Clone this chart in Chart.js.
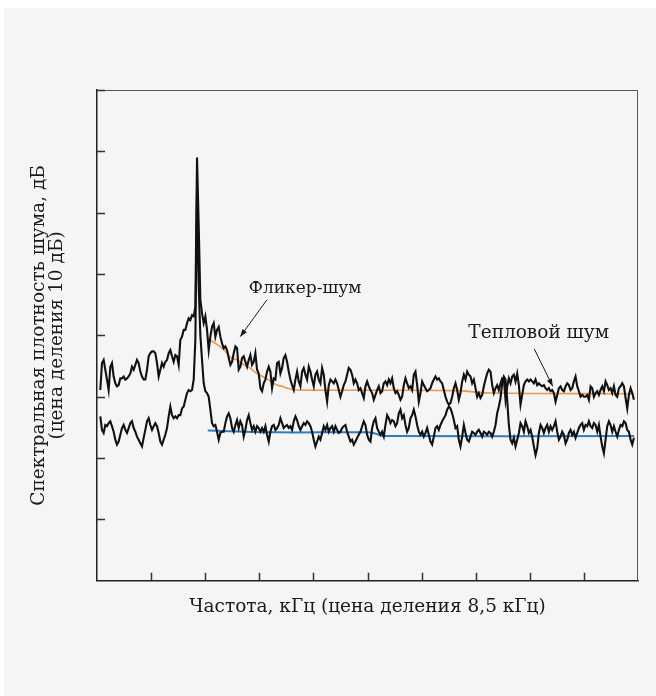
<!DOCTYPE html>
<html>
<head>
<meta charset="utf-8">
<script src="https://cdn.jsdelivr.net/npm/chart.js@4.4.1/dist/chart.umd.min.js"></script>
<style>
    html, body { margin: 0; padding: 0; background: #ffffff; }
    #wrap { position: absolute; left: 4px; top: 8px; width: 652px; height: 688px; background: #f5f5f5; }
</style>
</head>
<body>
<div id="wrap"><canvas id="noiseChart" width="652" height="688"></canvas></div>
<script>
// sweep grid of the analyser trace, kHz
const freqStartKHz = 0.52;
const freqStepKHz = 0.262;

// upper trace (input with flicker noise), dB
const upperTrace = [
    31.1, 35.5, 36.0, 34.4, 32.8, 31.1, 34.9, 35.5, 33.3, 32.2,
    31.7, 31.9, 33.0, 33.0, 33.3, 32.8, 33.0, 33.3, 33.8, 34.9,
    34.4, 35.2, 36.0, 35.5, 34.1, 33.3, 32.8, 32.8, 34.4, 36.6,
    37.1, 37.4, 37.4, 37.1, 35.5, 33.3, 34.4, 35.5, 34.9, 35.7,
    36.0, 37.1, 37.6, 36.6, 35.7, 36.8, 36.6, 35.2, 39.3, 39.8,
    40.9, 40.9, 42.0, 42.8, 42.5, 43.3, 43.1, 44.7, 69.0, 58.0,
    45.8, 43.6, 42.0, 43.1, 40.9, 37.6, 39.8, 41.4, 42.0, 39.8,
    40.9, 41.4, 39.8, 38.7, 37.9, 38.2, 37.6, 36.3, 35.2, 35.7,
    37.1, 38.2, 37.9, 34.4, 34.9, 36.3, 36.6, 35.7, 34.9, 36.0,
    36.8, 35.2, 35.7, 37.1, 34.4, 33.8, 31.4, 30.9, 32.2, 32.8,
    34.1, 34.9, 34.1, 31.4, 33.0, 32.8,
    35.5, 35.7, 33.8, 34.7, 36.3, 36.8, 35.7, 34.1, 32.8, 31.9,
    31.1, 32.8, 34.1, 32.5, 31.7, 34.1, 34.7, 33.6, 32.8, 34.9,
    34.1, 32.8, 31.7, 33.6, 34.1, 32.8, 32.2, 34.7, 33.6, 31.1,
    29.2, 31.9, 32.8, 32.5, 32.2, 32.8, 32.2, 31.1, 30.0, 30.9,
    31.9, 32.5, 33.6, 34.7, 34.4, 33.6, 32.2, 32.8, 32.2, 31.1,
    31.4, 30.6, 29.8, 31.7, 32.5, 31.7, 31.1, 30.6, 29.5, 30.3,
    31.1, 31.7, 30.6, 30.9, 32.2, 32.5, 31.9, 32.8, 32.2, 33.0,
    31.4, 30.6, 30.9, 30.3, 29.5, 30.0, 31.9, 33.0, 32.2, 31.4,
    31.7, 31.1, 33.6, 34.1, 31.9, 29.2, 30.6, 32.5, 31.9, 31.4,
    30.9, 31.1, 31.4, 32.2, 32.8, 33.3, 32.8, 33.0, 32.5, 32.2,
    31.1, 30.0, 29.2, 28.7, 29.0, 30.0, 31.4, 32.2,
    31.1, 29.5, 30.6, 32.5, 33.6, 32.8, 34.1, 33.6, 33.3, 32.2,
    32.8, 31.4, 30.0, 30.6, 29.8, 30.3, 31.7, 32.8, 33.8, 34.4,
    34.1, 31.9, 30.6, 31.4, 31.9, 31.1, 32.2, 33.0, 32.8, 29.5,
    31.7, 33.0, 32.2, 33.3, 33.6, 32.5, 33.8, 31.9, 28.7, 30.3,
    31.9, 32.5, 32.8, 32.5, 32.8, 32.5, 32.2, 32.8, 31.9, 32.2,
    31.9, 31.7, 31.9, 31.4, 31.1, 31.4, 30.9, 31.1, 30.6, 29.2,
    30.3, 31.4, 31.7, 31.1, 30.9, 31.7, 32.2, 31.9, 31.1, 31.4,
    32.5, 33.3, 31.7, 30.9, 30.0, 30.3, 30.0, 30.0, 30.3, 29.5,
    31.7, 31.4, 30.0, 30.6, 30.9, 30.3, 31.1, 31.7, 30.9, 32.5,
    31.9, 31.1, 31.4, 30.6, 31.7, 30.3, 30.0, 31.4, 31.7, 32.2,
    31.7, 29.8, 28.1, 30.3, 31.4, 30.6, 29.5
];

// lower trace (thermal noise only), dB
const lowerTrace = [
    26.8, 24.6, 24.1, 25.4, 25.2, 25.7, 26.0, 25.2, 24.3, 23.0,
    22.2, 22.7, 23.8, 24.9, 25.4, 24.6, 24.1, 24.9, 25.7, 26.0,
    24.9, 24.3, 23.5, 23.0, 22.4, 21.9, 23.3, 24.6, 26.0, 26.5,
    25.4, 24.6, 25.2, 25.7, 25.2, 24.1, 22.7, 22.2, 23.0, 23.8,
    24.9, 26.8, 28.4, 27.0, 26.5, 26.8, 26.5, 27.0, 27.0, 28.1,
    28.4, 29.5, 30.6, 31.1, 30.9, 31.1, 32.8, 39.3, 64.0, 48.0,
    40.0, 36.0, 32.2, 30.9, 30.6, 30.0, 27.9, 25.7, 25.2, 25.4,
    24.3, 23.0, 24.1, 24.3, 24.3, 25.7, 26.8, 27.3, 26.5, 24.9,
    24.3, 25.4, 26.2, 24.9, 26.0, 25.4, 23.5, 24.6, 26.2, 27.0,
    25.7, 24.6, 25.2, 24.3, 25.2, 24.9, 24.3, 24.9, 24.3, 25.2,
    23.8, 22.7, 24.3, 25.2, 25.4, 24.6,
    24.9, 25.4, 26.5, 25.7, 24.9, 25.2, 25.4, 24.9, 25.2, 24.6,
    26.0, 26.8, 26.2, 25.2, 24.6, 25.2, 25.7, 25.4, 26.0, 25.7,
    25.2, 24.3, 23.0, 21.9, 22.7, 23.5, 23.0, 24.1, 25.2, 24.6,
    25.4, 24.3, 24.9, 25.2, 24.3, 25.2, 24.6, 24.1, 24.3, 24.9,
    25.2, 25.4, 24.3, 23.5, 22.7, 23.0, 22.2, 22.7, 23.3, 23.8,
    24.3, 25.2, 26.0, 25.4, 23.8, 23.0, 22.7, 24.9, 26.0, 26.5,
    24.9, 24.3, 23.8, 24.3, 23.5, 25.4, 27.0, 26.5, 25.7, 26.2,
    26.0, 25.2, 25.7, 27.3, 27.9, 26.5, 27.0, 25.4, 24.3, 24.9,
    26.5, 27.0, 27.9, 26.8, 25.4, 24.3, 23.8, 24.3, 23.5, 24.1,
    24.9, 23.8, 22.7, 22.2, 23.5, 24.9, 25.2, 24.6, 25.4, 26.0,
    26.5, 27.0, 27.9, 28.4, 28.1, 27.3, 26.2, 24.9,
    25.2, 23.0, 21.9, 23.5, 25.4, 24.1, 23.0, 22.7, 23.5, 24.3,
    24.1, 23.8, 24.3, 24.6, 24.1, 23.5, 24.3, 24.1, 23.8, 24.3,
    24.1, 23.5, 24.3, 25.4, 27.3, 28.4, 29.8, 32.2, 33.3, 32.8,
    29.5, 25.4, 23.0, 22.4, 23.3, 21.9, 23.0, 24.1, 25.7, 25.2,
    24.3, 26.0, 25.2, 24.1, 24.6, 23.5, 21.9, 20.5, 21.6, 24.1,
    25.4, 24.9, 24.1, 24.9, 25.4, 24.3, 25.2, 24.6, 25.2, 26.0,
    24.3, 23.0, 23.5, 24.3, 23.8, 22.4, 23.0, 24.1, 24.6, 23.8,
    24.3, 23.3, 24.1, 24.9, 25.4, 25.7, 24.6, 25.4, 25.2, 26.0,
    25.2, 24.9, 25.7, 25.4, 24.3, 25.4, 23.5, 21.9, 20.8, 23.0,
    25.2, 26.0, 25.4, 24.3, 25.2, 24.3, 23.5, 24.6, 25.4, 25.2,
    26.0, 25.7, 24.6, 24.3, 23.0, 22.2, 23.3
];

// smoothed levels
const flickerFreq = [17.4, 18.9, 20.0, 20.9, 22.0, 23.1, 24.0, 25.1, 26.2, 27.2, 28.3, 29.1, 29.9, 31.4, 56.6, 61.7, 84.4];
const flickerLevel = [39.4, 38.5, 37.6, 36.5, 36.0, 35.2, 34.7, 33.8, 33.2, 32.6, 31.9, 31.7, 31.4, 31.1, 31.0, 30.6, 30.5];
const thermalFreq = [17.4, 28.3, 42.4, 43.7, 44.9, 84.4];
const thermalLevel = [24.5, 24.2, 24.2, 24.0, 23.6, 23.6];

const xMax = 85;     // 10 divisions of 8.5 kHz
const xStep = 8.5;
const yMax = 80;     // 8 divisions of 10 dB
const yStep = 10;

const serif = "'DejaVu Serif', 'Liberation Serif', serif";

const toPoints = (values) => values.map((v, i) => ({ x: freqStartKHz + i * freqStepKHz, y: v }));
const pairPoints = (xs, ys) => xs.map((x, i) => ({ x: x, y: ys[i] }));

// inward tick marks and the top/right frame lines
const frameTicks = {
    id: 'frameTicks',
    afterDraw(chart) {
        const { ctx, chartArea: a, scales } = chart;
        ctx.save();
        ctx.strokeStyle = '#555';
        ctx.lineWidth = 1;
        ctx.beginPath();
        ctx.moveTo(a.left, a.top + 0.5);
        ctx.lineTo(a.right - 0.5, a.top + 0.5);
        ctx.lineTo(a.right - 0.5, a.bottom);
        ctx.stroke();

        ctx.strokeStyle = '#333';
        ctx.lineWidth = 1.5;
        ctx.beginPath();
        scales.x.ticks.forEach(t => {
            const px = Math.round(scales.x.getPixelForValue(t.value)) + 0.5;
            if (t.value <= 0 || t.value >= xMax) return;
            ctx.moveTo(px, a.bottom);
            ctx.lineTo(px, a.bottom - 8);
        });
        scales.y.ticks.forEach(t => {
            const py = Math.round(scales.y.getPixelForValue(t.value)) + 0.5;
            if (t.value <= 0) return;
            ctx.moveTo(a.left, py);
            ctx.lineTo(a.left + 8, py);
        });
        ctx.stroke();
        ctx.restore();
    }
};

// labels with pointers
const callouts = [
    { text: 'Фликер-шум', size: 17, at: [32.7, 47.6], from: [26.7, 45.8], to: [22.5, 39.8] },
    { text: 'Тепловой шум', size: 18.5, at: [69.4, 40.3], from: [68.7, 37.8], to: [71.6, 31.7] }
];

const calloutPlugin = {
    id: 'callouts',
    afterDatasetsDraw(chart) {
        const { ctx, scales: { x, y } } = chart;
        ctx.save();
        ctx.fillStyle = '#1a1a1a';
        ctx.textAlign = 'center';
        ctx.textBaseline = 'middle';
        ctx.strokeStyle = '#1a1a1a';
        ctx.lineWidth = 1;
        callouts.forEach(c => {
            ctx.font = c.size + 'px ' + serif;
            ctx.fillText(c.text, x.getPixelForValue(c.at[0]), y.getPixelForValue(c.at[1]));
            const x1 = x.getPixelForValue(c.from[0]), y1 = y.getPixelForValue(c.from[1]);
            const x2 = x.getPixelForValue(c.to[0]), y2 = y.getPixelForValue(c.to[1]);
            ctx.beginPath();
            ctx.moveTo(x1, y1);
            ctx.lineTo(x2, y2);
            ctx.stroke();
            const ang = Math.atan2(y2 - y1, x2 - x1);
            ctx.beginPath();
            ctx.moveTo(x2, y2);
            ctx.lineTo(x2 - 8 * Math.cos(ang - 0.35), y2 - 8 * Math.sin(ang - 0.35));
            ctx.lineTo(x2 - 8 * Math.cos(ang + 0.35), y2 - 8 * Math.sin(ang + 0.35));
            ctx.closePath();
            ctx.fill();
        });
        ctx.restore();
    }
};

const noiseCtx = document.getElementById('noiseChart').getContext('2d');
new Chart(noiseCtx, {
    type: 'line',
    data: {
        datasets: [
            {
                label: 'upper',
                data: toPoints(upperTrace),
                borderColor: '#111111',
                borderWidth: 2.1,
                pointRadius: 0,
                tension: 0
            },
            {
                label: 'lower',
                data: toPoints(lowerTrace),
                borderColor: '#111111',
                borderWidth: 2.1,
                pointRadius: 0,
                tension: 0
            },
            {
                label: 'flicker',
                data: pairPoints(flickerFreq, flickerLevel),
                borderColor: '#f0964a',
                borderWidth: 1.6,
                pointRadius: 0,
                tension: 0.3
            },
            {
                label: 'thermal',
                data: pairPoints(thermalFreq, thermalLevel),
                borderColor: '#2c7dc2',
                borderWidth: 2,
                pointRadius: 0,
                tension: 0.3
            }
        ]
    },
    options: {
        responsive: false,
        animation: false,
        devicePixelRatio: 1,
        layout: { padding: { left: 25.5, top: 82, right: 18, bottom: 78 } },
        scales: {
            x: {
                type: 'linear',
                min: 0,
                max: xMax,
                ticks: { display: false, stepSize: xStep },
                grid: { display: false, drawTicks: false },
                border: { display: true, color: '#222', width: 1.5 },
                title: {
                    display: true,
                    text: 'Частота, кГц (цена деления 8,5 кГц)',
                    font: { family: serif, size: 18.5, lineHeight: 1.2 },
                    color: '#1a1a1a',
                    padding: { top: 15, bottom: 0 }
                }
            },
            y: {
                min: 0,
                max: yMax,
                ticks: { display: false, stepSize: yStep },
                grid: { display: false, drawTicks: false },
                border: { display: true, color: '#222', width: 1.5 },
                title: {
                    display: true,
                    text: ['Спектральная плотность шума, дБ', '(цена деления 10 дБ)'],
                    font: { family: serif, size: 18.5, lineHeight: 1.0 },
                    color: '#1a1a1a',
                    padding: { top: 0, bottom: 30.5 }
                }
            }
        },
        plugins: {
            legend: { display: false },
            tooltip: { enabled: false }
        }
    },
    plugins: [frameTicks, calloutPlugin]
});
</script>
</body>
</html>
